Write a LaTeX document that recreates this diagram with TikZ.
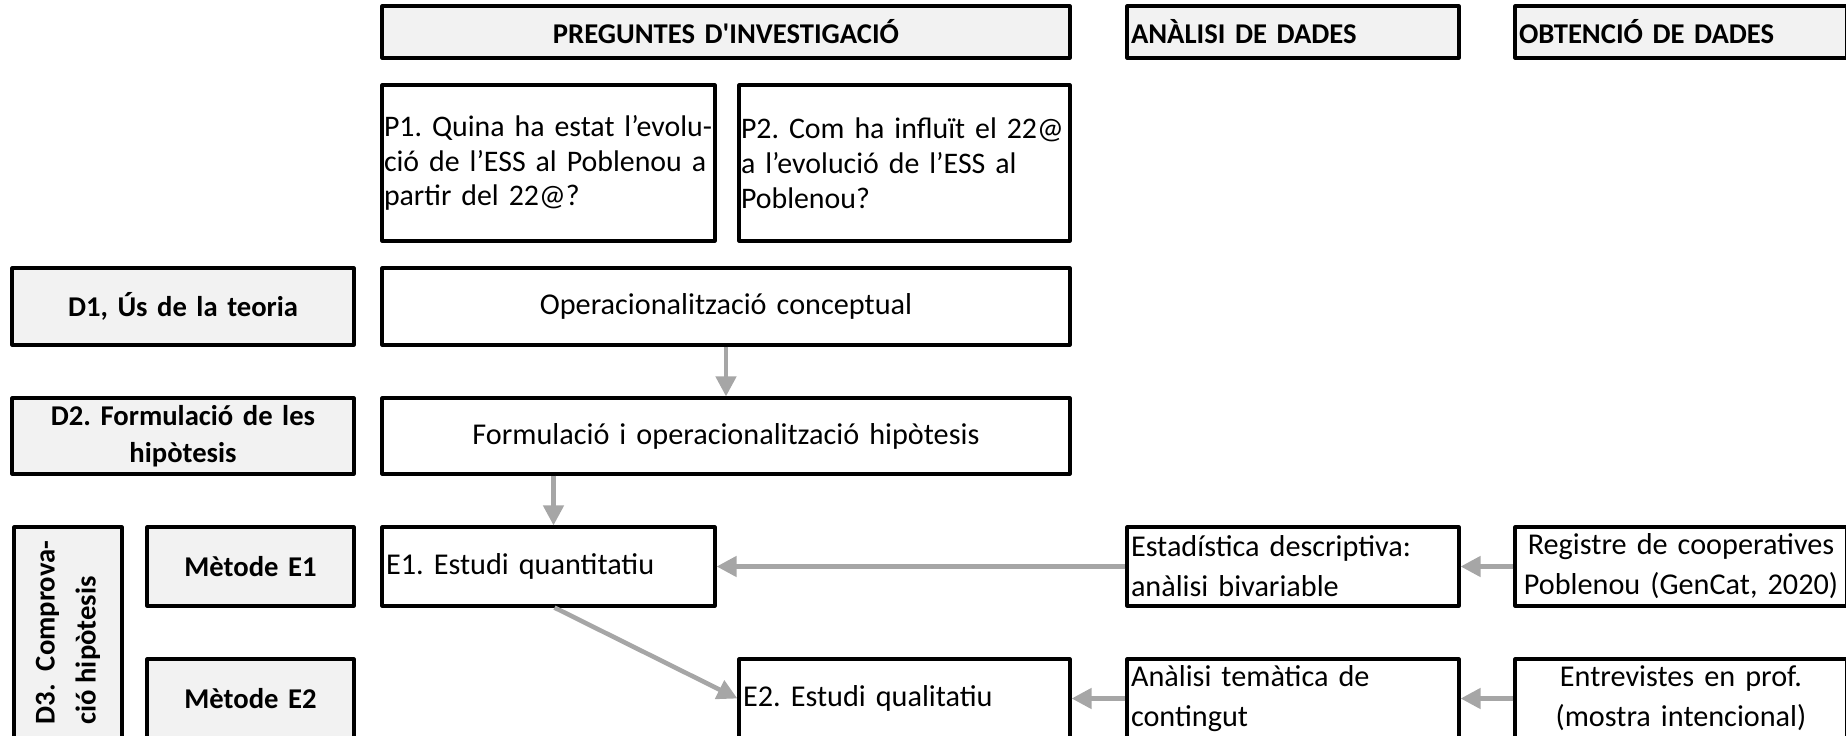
\documentclass[tikz,border=0pt]{standalone}
\usepackage{fontspec}
\setmainfont{Carlito}[Ligatures=TeXOff]
\usetikzlibrary{arrows.meta}
\definecolor{headgray}{HTML}{F2F2F2}
\definecolor{arrgray}{HTML}{A6A6A6}
\frenchspacing

\begin{document}
\begin{tikzpicture}[>={Triangle[length=.2cm,width=.2cm]}, line join=round,
	box/.style={draw, line width=.9pt, inner xsep=.04cm, inner ysep=0pt, minimum height=.79cm, font=\fontsize{8.6}{11.4}\selectfont},
	head/.style={box, fill=headgray, font=\bfseries\fontsize{8.15}{10.4}\selectfont},
	pbox/.style={box, minimum height=1.56cm, inner xsep=.02cm, text width=3.29cm, align=left, font=\fontsize{8.5}{9.9}\selectfont},
	arr/.style={->, draw=arrgray, line width=1.3pt}]
			\useasboundingbox (0,0) rectangle (18.46,-7.36);
			\clip (0,0) rectangle (18.46,-7.36);
			% column headers
			\node[head, minimum height=.52cm, text width=6.80cm, align=center] (preg) at (7.26,-.32) {PREGUNTES D'INVESTIGACIÓ};
			\node[head, minimum height=.52cm, text width=3.24cm, align=left] (anal) at (12.93,-.32) {ANÀLISI DE DADES};
			\node[head, minimum height=.52cm, text width=3.24cm, align=left] (obt) at (16.81,-.32) {OBTENCIÓ DE DADES};
			\node[pbox] (p1) at (5.485,-1.63) {P1. Quina ha estat l’evolu-\\ció de l’ESS al Poblenou a\\partir del 22@?};
			\node[pbox, text width=3.27cm] (p2) at (9.045,-1.63) {P2. Com ha influït el 22@\\a l’evolució de l’ESS al\\Poblenou?};
			% D1, D2
			\node[head, minimum height=.77cm, text width=3.34cm, align=center] (d1) at (1.83,-3.065) {D1, Ús de la teoria};
			\node[box, minimum height=.77cm, text width=6.80cm, align=center] (ops) at (7.26,-3.065) {Operacionalització conceptual};
			\node[head, minimum height=.76cm, text width=3.34cm, align=center] (d2) at (1.83,-4.36) {D2. Formulació de les\\hipòtesis};
			\node[box, minimum height=.76cm, text width=6.80cm, align=center] (form) at (7.26,-4.36) {Formulació i operacionalització hipòtesis};
			% D3
			\node[head, rotate=90, minimum width=2.11cm, minimum height=1.08cm, align=left, font=\bfseries\fontsize{8.15}{11.7}\selectfont] (d3) at (.68,-6.325) {D3.~~Comprova-\\ció hipòtesis};
			\node[head, text width=1.99cm, align=center] (me1) at (2.505,-5.665) {Mètode E1};
			\node[box, text width=3.25cm, align=left] (e1) at (5.485,-5.665) {E1. Estudi quantitatiu};
			\node[box, text width=3.24cm, align=left] (est) at (12.93,-5.665) {Estadística descriptiva:\\anàlisi bivariable};
			\node[box, text width=3.24cm, align=center] (reg) at (16.81,-5.665) {Registre de cooperatives\\Poblenou (GenCat, 2020)};
			\node[head, text width=1.99cm, align=center] (me2) at (2.505,-6.985) {Mètode E2};
			\node[box, text width=3.23cm, align=left] (e2) at (9.045,-6.985) {E2. Estudi qualitatiu};
			\node[box, text width=3.24cm, align=left] (tem) at (12.93,-6.985) {Anàlisi temàtica de\\contingut};
			\node[box, text width=3.24cm, align=center] (ent) at (16.81,-6.985) {Entrevistes en prof.\\(mostra intencional)};
			% arrows
			\draw[arr] (ops.south) -- (form.north);
			\draw[arr] ([xshift=.05cm]e1.north |- form.south) -- ([xshift=.05cm]e1.north);
			\draw[arr] (est.west) -- (e1.east);
			\draw[arr] (reg.west) -- (est.east);
			\draw[arr] ([xshift=.06cm]e1.south) -- (e2.west);
			\draw[arr] (tem.west) -- (e2.east);
			\draw[arr] (ent.west) -- (tem.east);
		\end{tikzpicture}
\end{document}
